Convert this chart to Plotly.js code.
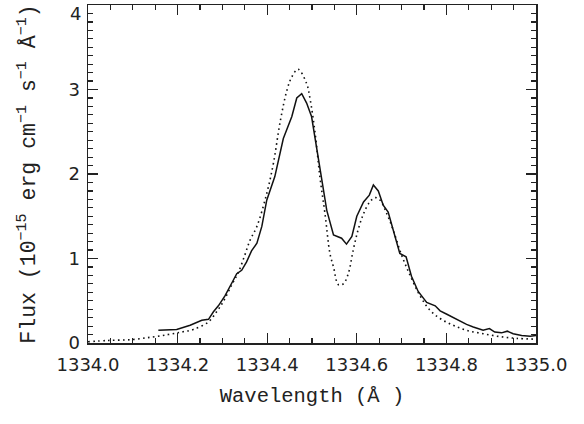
<!DOCTYPE html>
<html>
<head>
<meta charset="utf-8">
<script src="https://cdn.plot.ly/plotly-3.0.1.min.js"></script>
<style>html,body{margin:0;padding:0;background:#fff;}#chart{width:584px;height:424px;}</style>
</head>
<body>
<div id="chart"></div>
<script>
// Observed spectrum (solid)
const obsWave = [1334.157,1334.198,1334.228,1334.254,1334.269,1334.280,1334.291,1334.306,1334.321,1334.332,1334.343,1334.354,1334.365,1334.377,1334.388,1334.399,1334.417,1334.436,1334.455,1334.466,1334.477,1334.488,1334.499,1334.510,1334.522,1334.533,1334.548,1334.566,1334.577,1334.589,1334.600,1334.615,1334.628,1334.637,1334.648,1334.659,1334.670,1334.681,1334.696,1334.710,1334.722,1334.737,1334.756,1334.775,1334.786,1334.801,1334.823,1334.845,1334.860,1334.882,1334.896,1334.908,1334.923,1334.936,1334.949,1334.968,1334.987,1335.0];
const obsFlux = [0.15,0.16,0.21,0.27,0.28,0.37,0.44,0.56,0.71,0.82,0.86,0.96,1.09,1.18,1.38,1.69,1.97,2.42,2.68,2.90,2.95,2.84,2.68,2.32,1.93,1.57,1.28,1.24,1.17,1.26,1.50,1.67,1.75,1.87,1.80,1.63,1.55,1.34,1.06,1.02,0.79,0.61,0.48,0.44,0.38,0.34,0.28,0.22,0.19,0.15,0.17,0.13,0.12,0.14,0.11,0.09,0.08,0.09];
// Model spectrum (dotted)
const modWave = [1334.0,1334.045,1334.097,1334.142,1334.179,1334.209,1334.235,1334.269,1334.287,1334.302,1334.321,1334.336,1334.350,1334.362,1334.377,1334.399,1334.414,1334.429,1334.444,1334.455,1334.469,1334.488,1334.496,1334.507,1334.518,1334.529,1334.540,1334.548,1334.559,1334.570,1334.581,1334.592,1334.603,1334.615,1334.629,1334.641,1334.652,1334.667,1334.681,1334.700,1334.719,1334.741,1334.763,1334.786,1334.815,1334.845,1334.882,1334.920,1334.957,1335.0];
const modFlux = [0.015,0.03,0.04,0.07,0.10,0.13,0.16,0.25,0.37,0.49,0.69,0.84,1.04,1.22,1.38,1.77,2.13,2.62,2.99,3.15,3.24,3.07,2.88,2.48,1.95,1.53,1.06,0.90,0.69,0.70,0.82,1.10,1.34,1.53,1.67,1.72,1.69,1.53,1.34,1.04,0.80,0.56,0.39,0.29,0.21,0.15,0.11,0.075,0.055,0.045];

const xTickVals = [1334.0,1334.2,1334.4,1334.6,1334.8,1335.0];
const yTickVals = [0,1,2,3,4];
const yTickText = ['0','1','2','3',''];   // top label "4" drawn as annotation so it is not clipped
const yTopLabel = '4';

const traces = [
  {x: obsWave, y: obsFlux, type: 'scatter', mode: 'lines',
   line: {color: '#111', width: 1.5}, hoverinfo: 'skip'},
  {x: modWave, y: modFlux, type: 'scatter', mode: 'lines',
   line: {color: '#111', width: 1.6, dash: '1.6px,3.4px', shape: 'spline'}, hoverinfo: 'skip'}
];

const axisCommon = {
  showgrid: false, zeroline: false, showline: true, linecolor: '#222', linewidth: 1.5,
  mirror: 'ticks', ticks: 'inside', ticklen: 10, tickwidth: 1.2, tickcolor: '#222',
  tickfont: {family: 'DejaVu Sans', size: 18, color: '#222'}
};

const layout = {
  width: 584, height: 424,
  margin: {l: 88, r: 48, t: 5, b: 81},
  paper_bgcolor: '#fff', plot_bgcolor: '#fff',
  showlegend: false,
  xaxis: Object.assign({}, axisCommon, {
    range: [1334.0, 1335.0], tickvals: xTickVals, tickformat: '.1f',
    ticklabelstandoff: 5,
    minor: {dtick: 0.05, ticks: 'inside', ticklen: 5, tickwidth: 1.2, tickcolor: '#222'},
    title: {text: 'Wavelength (Å )', standoff: 13,
            font: {family: 'Liberation Mono', size: 20.5, color: '#222'}}
  }),
  yaxis: Object.assign({}, axisCommon, {
    range: [0, 4.0001], tickvals: yTickVals, ticktext: yTickText,
    ticklabelstandoff: 3,
    minor: {dtick: 0.1, ticks: 'inside', ticklen: 5, tickwidth: 1.2, tickcolor: '#222'},
    title: {text: 'Flux (10<sup>−15</sup> erg cm<sup>−1</sup> s<sup>−1</sup> Å<sup>−1</sup>)', standoff: 27,
            font: {family: 'Liberation Mono', size: 21.5, color: '#222'}}
  }),
  annotations: [{
    text: yTopLabel, xref: 'paper', yref: 'y', x: 0, y: 4, xanchor: 'right', yanchor: 'top',
    xshift: -5, yshift: 4, showarrow: false,
    font: {family: 'DejaVu Sans', size: 18, color: '#222'}
  }]
};

Plotly.newPlot('chart', traces, layout, {staticPlot: true, displayModeBar: false});
</script>
</body>
</html>
